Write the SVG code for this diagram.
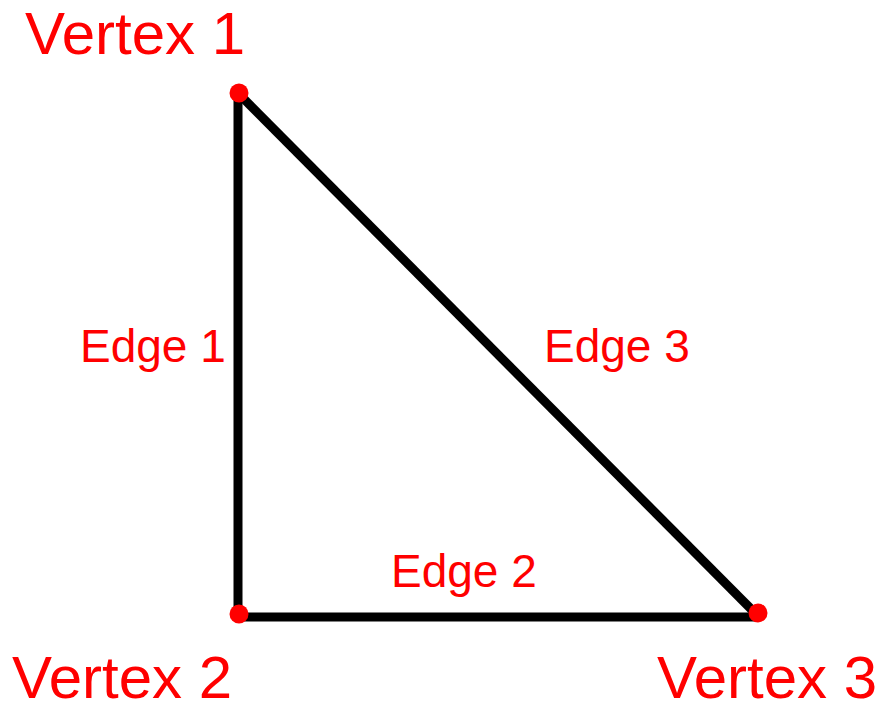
<svg xmlns="http://www.w3.org/2000/svg" width="883" height="702" viewBox="0 0 883 702">
<style>
.lbl{font-family:"Liberation Sans",Arial,sans-serif;fill:#ff0000}
.v{font-size:60px}
.e{font-size:46px}
.edge{stroke:#000;stroke-width:9;fill:none}
.dot{fill:#ff0000}
</style>
<rect width="883" height="702" fill="#fff"/>
<g id="connectors">
<path id="edge1" class="edge" d="M238 95 L238 617"/>
<path id="edge2" class="edge" d="M234 617 L756 617"/>
<path id="edge3" class="edge" d="M240 95 L757 615"/>
</g>
<g id="vertex1"><circle class="dot" cx="239" cy="93" r="9.5"/><text class="lbl v" x="25" y="54">Vertex 1</text></g>
<g id="vertex2"><circle class="dot" cx="239" cy="614" r="9.5"/><text class="lbl v" x="12" y="698">Vertex 2</text></g>
<g id="vertex3"><circle class="dot" cx="758" cy="613" r="9.5"/><text class="lbl v" x="657" y="698">Vertex 3</text></g>
<g id="labels">
<text class="lbl e" x="80" y="362">Edge 1</text>
<text class="lbl e" x="391" y="587">Edge 2</text>
<text class="lbl e" x="544" y="362">Edge 3</text>
</g>
</svg>
